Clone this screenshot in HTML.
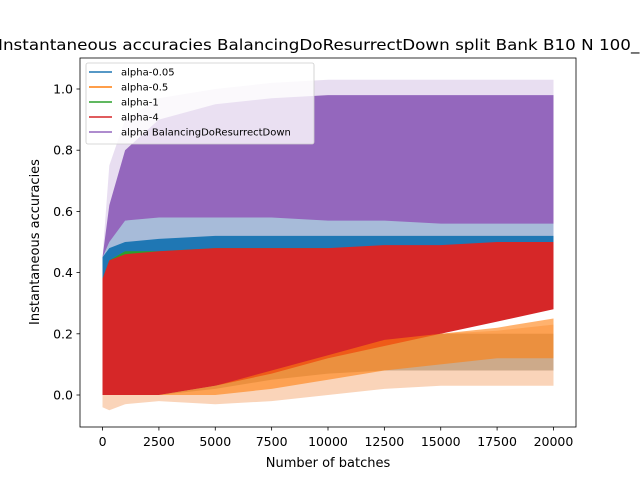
<!DOCTYPE html>
<html><head><meta charset="utf-8"><style>
body{margin:0;background:#fff;}
svg{display:block;font-family:"DejaVu Sans","Liberation Sans",sans-serif;}
</style></head><body>
<svg id="chart" width="640" height="480" viewBox="0 0 640 480" xmlns="http://www.w3.org/2000/svg">
<defs><clipPath id="plotclip"><rect x="80" y="58" width="496" height="369"/></clipPath></defs>
<text x="-2" y="50" font-size="15" textLength="652" lengthAdjust="spacingAndGlyphs">Instantaneous accuracies BalancingDoResurrectDown split Bank B10 N 100_1</text>
<g id="layers" clip-path="url(#plotclip)"></g>
<rect x="80" y="58" width="496" height="369" fill="none" stroke="#000" stroke-width="0.8"/>
<g id="axes"></g>
<text x="328" y="467" font-size="13" text-anchor="middle">Number of batches</text>
<text transform="translate(39,242) rotate(-90)" font-size="13" text-anchor="middle">Instantaneous accuracies</text>
<g>
<rect x="86" y="63" width="228" height="81" rx="2" fill="#fff" fill-opacity="0.8" stroke="#ccc" stroke-width="0.8"/>
<g id="legend-items"></g>
</g>
</svg>
<script>
const xs = [0, 300, 1000, 2500, 5000, 7500, 10000, 12500, 15000, 17500, 20000];
const purpleBandHi = [0.45, 0.75, 0.9, 0.97, 1.0, 1.02, 1.03, 1.03, 1.03, 1.03, 1.03];
const purpleBandLo = [0, 0.4, 0.48, 0.5, 0.52, 0.52, 0.5, 0.5, 0.5, 0.5, 0.5];
const purpleHi = [0.45, 0.62, 0.8, 0.9, 0.95, 0.97, 0.98, 0.98, 0.98, 0.98, 0.98];
const purpleLo = [0, 0.45, 0.47, 0.48, 0.48, 0.48, 0.48, 0.48, 0.48, 0.48, 0.48];
const blueBandHi = [0.45, 0.5, 0.57, 0.58, 0.58, 0.58, 0.57, 0.57, 0.56, 0.56, 0.56];
const blueBandLo = [0, 0.45, 0.45, 0.45, 0.45, 0.45, 0.45, 0.45, 0.45, 0.45, 0.45];
const blueHi = [0.45, 0.48, 0.5, 0.51, 0.52, 0.52, 0.52, 0.52, 0.52, 0.52, 0.52];
const blueLo = [0, 0.44, 0.45, 0.45, 0.46, 0.46, 0.46, 0.46, 0.46, 0.46, 0.46];
const greenHi = [0.38, 0.44, 0.47, 0.47, 0.48, 0.48, 0.48, 0.48, 0.48, 0.48, 0.48];
const greenLo = [0, 0.3, 0.32, 0.35, 0.38, 0.4, 0.4, 0.4, 0.4, 0.4, 0.4];
const peachHi = [0, 0, 0.02, 0.04, 0.06, 0.1, 0.14, 0.17, 0.2, 0.21, 0.23];
const peachLo = [-0.04, -0.05, -0.03, -0.02, -0.03, -0.02, 0, 0.02, 0.03, 0.03, 0.03];
const tanHi = [0, 0, 0.0, 0.02, 0.06, 0.12, 0.17, 0.19, 0.2, 0.2, 0.2];
const tanLo = [0, 0, 0, 0, 0.02, 0.05, 0.07, 0.08, 0.08, 0.08, 0.08];
const orangeHi = [0, 0, 0, 0, 0.03, 0.08, 0.13, 0.18, 0.2, 0.22, 0.25];
const orangeLo = [0, 0, 0, 0, 0, 0.02, 0.05, 0.08, 0.1, 0.12, 0.12];
const redHi = [0.38, 0.44, 0.46, 0.47, 0.48, 0.48, 0.48, 0.49, 0.49, 0.5, 0.5];
const redLo = [0, 0, 0, 0, 0.03, 0.07, 0.12, 0.16, 0.2, 0.24, 0.28];
const xTicks = [0, 2500, 5000, 7500, 10000, 12500, 15000, 17500, 20000];
const yTicks = [0.0, 0.2, 0.4, 0.6, 0.8, 1.0];
const legendLabels = ["alpha-0.05", "alpha-0.5", "alpha-1", "alpha-4", "alpha BalancingDoResurrectDown"];
const legendColors = ["#1f77b4", "#ff7f0e", "#2ca02c", "#d62728", "#9467bd"];

const NS = "http://www.w3.org/2000/svg";
const X = v => 80 + (v + 1000) * 496 / 22000;
const Y = v => 395 - v * 306;
function band(hi, lo, fill, op, name) {
  const pts = [];
  for (let i = 0; i < xs.length; i++) pts.push(X(xs[i]).toFixed(1) + "," + Y(hi[i]).toFixed(1));
  for (let i = xs.length - 1; i >= 0; i--) pts.push(X(xs[i]).toFixed(1) + "," + Y(lo[i]).toFixed(1));
  const p = document.createElementNS(NS, "polygon");
  p.setAttribute("points", pts.join(" "));
  p.setAttribute("fill", fill);
  p.setAttribute("fill-opacity", op);
  
  
  document.getElementById("layers").appendChild(p);
}
band(purpleBandHi, purpleBandLo, "#9467bd", 0.22, "purple-std-band");
band(purpleHi, purpleLo, "#9467bd", 1, "series-balancing");
band(blueBandHi, blueBandLo, "#a9c4dc", 0.9, "blue-std-band");
band(blueHi, blueLo, "#1f77b4", 1, "series-alpha-0.05");
band(peachHi, peachLo, "#f9c9a8", 0.8, "orange-std-band");
band(tanHi, tanLo, "#c8a585", 0.9, "tan-overlap-band");
band(greenHi, greenLo, "#2ca02c", 1, "series-alpha-1");
band(redHi, redLo, "#d62728", 1, "series-alpha-4");
band(orangeHi, orangeLo, "#ff7f0e", 0.6, "series-alpha-0.5");

const ax = document.getElementById("axes");
xTicks.forEach(t => {
  const l = document.createElementNS(NS, "line");
  l.setAttribute("x1", X(t)); l.setAttribute("x2", X(t));
  l.setAttribute("y1", 427); l.setAttribute("y2", 430.5);
  l.setAttribute("stroke", "#000"); l.setAttribute("stroke-width", "0.8");
  
  
  ax.appendChild(l);
  const s = document.createElementNS(NS, "text");
  s.setAttribute("x", X(t)); s.setAttribute("y", 446);
  s.setAttribute("font-size", "12.5"); s.setAttribute("text-anchor", "middle");
  s.textContent = String(t);
  
  
  ax.appendChild(s);
});
yTicks.forEach(t => {
  const l = document.createElementNS(NS, "line");
  l.setAttribute("x1", 76.5); l.setAttribute("x2", 80);
  l.setAttribute("y1", Y(t)); l.setAttribute("y2", Y(t));
  l.setAttribute("stroke", "#000"); l.setAttribute("stroke-width", "0.8");
  
  
  ax.appendChild(l);
  const s = document.createElementNS(NS, "text");
  s.setAttribute("x", 73); s.setAttribute("y", Y(t) + 4.5);
  s.setAttribute("font-size", "12.5"); s.setAttribute("text-anchor", "end");
  s.textContent = t.toFixed(1);
  
  
  ax.appendChild(s);
});
const lg = document.getElementById("legend-items");
legendLabels.forEach((lab, i) => {
  const y = 72 + i * 15;
  const l = document.createElementNS(NS, "line");
  l.setAttribute("x1", 89); l.setAttribute("x2", 112);
  l.setAttribute("y1", y); l.setAttribute("y2", y);
  l.setAttribute("stroke", legendColors[i]); l.setAttribute("stroke-width", "1.5");
  
  
  lg.appendChild(l);
  const s = document.createElementNS(NS, "text");
  s.setAttribute("x", 121); s.setAttribute("y", y + 3.5);
  s.setAttribute("font-size", "10");
  s.textContent = lab;
  
  
  lg.appendChild(s);
});
</script>
</body></html>
